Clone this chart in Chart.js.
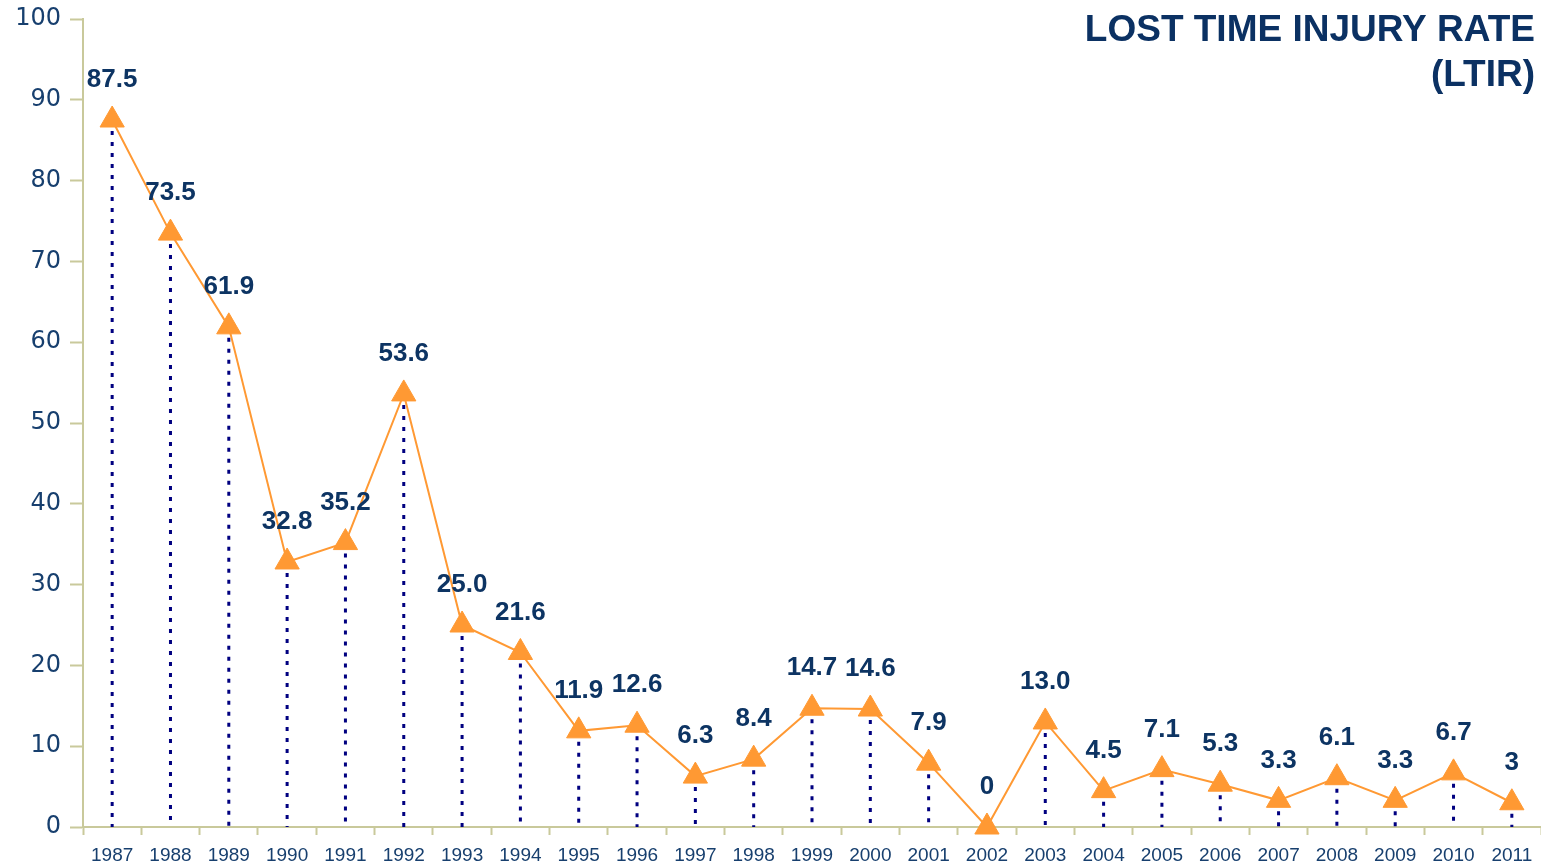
<!DOCTYPE html>
<html>
<head>
<meta charset="utf-8">
<title>Lost Time Injury Rate (LTIR)</title>
<script src="https://cdn.jsdelivr.net/npm/chart.js@4.4.1/dist/chart.umd.min.js"></script>
<style>
    html, body { margin: 0; padding: 0; background: #ffffff; }
    #wrap { width: 1541px; height: 865px; position: relative; }
</style>
</head>
<body>
<div id="wrap"><canvas id="ltir"></canvas></div>
<script>
// Data
const years = ['1987', '1988', '1989', '1990', '1991', '1992', '1993', '1994', '1995', '1996',
    '1997', '1998', '1999', '2000', '2001', '2002', '2003', '2004', '2005', '2006',
    '2007', '2008', '2009', '2010', '2011'];
const ltirValues = [87.5, 73.5, 61.9, 32.8, 35.2, 53.6, 25.0, 21.6, 11.9, 12.6,
    6.3, 8.4, 14.7, 14.6, 7.9, 0, 13.0, 4.5, 7.1, 5.3,
    3.3, 6.1, 3.3, 6.7, 3];
const ltirLabels = ['87.5', '73.5', '61.9', '32.8', '35.2', '53.6', '25.0', '21.6', '11.9', '12.6',
    '6.3', '8.4', '14.7', '14.6', '7.9', '0', '13.0', '4.5', '7.1', '5.3',
    '3.3', '6.1', '3.3', '6.7', '3'];
const yTicks = [0, 10, 20, 30, 40, 50, 60, 70, 80, 90, 100];
const titleLines = ['LOST TIME INJURY RATE', '(LTIR)'];

const axisColor = '#c9c99b';
const textColor = '#173f6e';
const labelColor = '#0d3463';

// Dotted drop lines from each point down to the x axis
const dropLines = {
    id: 'dropLines',
    beforeDatasetsDraw(chart) {
        const ctx = chart.ctx;
        const meta = chart.getDatasetMeta(0);
        const y0 = chart.scales.y.getPixelForValue(0);
        ctx.save();
        ctx.strokeStyle = '#000080';
        ctx.lineWidth = 3;
        ctx.setLineDash([4, 7]);
        meta.data.forEach(el => {
            ctx.beginPath();
            ctx.moveTo(el.x, el.y);
            ctx.lineTo(el.x, y0);
            ctx.stroke();
        });
        ctx.restore();
    }
};

// Value labels above each triangle
const valueLabels = {
    id: 'valueLabels',
    afterDatasetsDraw(chart) {
        const ctx = chart.ctx;
        const meta = chart.getDatasetMeta(0);
        ctx.save();
        ctx.fillStyle = labelColor;
        ctx.font = 'bold 26px "Liberation Sans", Arial, sans-serif';
        ctx.textAlign = 'center';
        ctx.textBaseline = 'middle';
        meta.data.forEach((el, i) => {
            ctx.fillText(ltirLabels[i], el.x, el.y - 40);
        });
        ctx.restore();
    }
};

// Title in the top right corner
const cornerTitle = {
    id: 'cornerTitle',
    afterDraw(chart) {
        const ctx = chart.ctx;
        ctx.save();
        ctx.fillStyle = '#0b3163';
        ctx.font = 'bold 37px "Liberation Sans", Arial, sans-serif';
        ctx.textAlign = 'right';
        ctx.textBaseline = 'middle';
        ctx.fillText(titleLines[0], 1535, 31);
        ctx.fillText(titleLines[1], 1535, 76);
        ctx.restore();
    }
};

new Chart(document.getElementById('ltir'), {
    type: 'line',
    data: {
        labels: years,
        datasets: [{
            label: 'LTIR',
            data: ltirValues,
            borderColor: '#ff9933',
            borderWidth: 2,
            backgroundColor: '#ff9933',
            pointStyle: 'triangle',
            pointRadius: 14,
            pointBackgroundColor: '#ff9933',
            pointBorderColor: '#ff9933',
            pointBorderWidth: 1,
            tension: 0,
            clip: false
        }]
    },
    options: {
        responsive: true,
        maintainAspectRatio: false,
        animation: false,
        layout: {
            autoPadding: false,
            padding: { top: 19, right: 0, bottom: 0, left: 0 }
        },
        plugins: {
            legend: { display: false },
            tooltip: { enabled: false },
            title: { display: false }
        },
        scales: {
            x: {
                offset: true,
                grid: {
                    offset: true,
                    drawOnChartArea: false,
                    tickLength: 8,
                    tickColor: axisColor,
                    tickWidth: 2
                },
                border: { color: axisColor, width: 2 },
                ticks: {
                    color: textColor,
                    font: { family: '"Liberation Sans", Arial, sans-serif', size: 19 },
                    maxRotation: 0,
                    autoSkip: false,
                    padding: 9
                },
                afterFit(scale) {
                    scale.height = 38;
                    scale.paddingLeft = 0;
                    scale.paddingRight = 0;
                }
            },
            y: {
                min: 0,
                max: 100,
                afterBuildTicks(scale) {
                    scale.ticks = yTicks.map(v => ({ value: v }));
                },
                grid: {
                    drawOnChartArea: false,
                    tickLength: 13,
                    tickColor: axisColor,
                    tickWidth: 2
                },
                border: { color: axisColor, width: 2 },
                ticks: {
                    color: textColor,
                    font: { family: '"DejaVu Sans", sans-serif', size: 24 },
                    padding: 9
                },
                afterFit(scale) {
                    scale.width = 83;
                    scale.paddingTop = 0;
                    scale.paddingBottom = 0;
                }
            }
        }
    },
    plugins: [dropLines, valueLabels, cornerTitle]
});
</script>
</body>
</html>
